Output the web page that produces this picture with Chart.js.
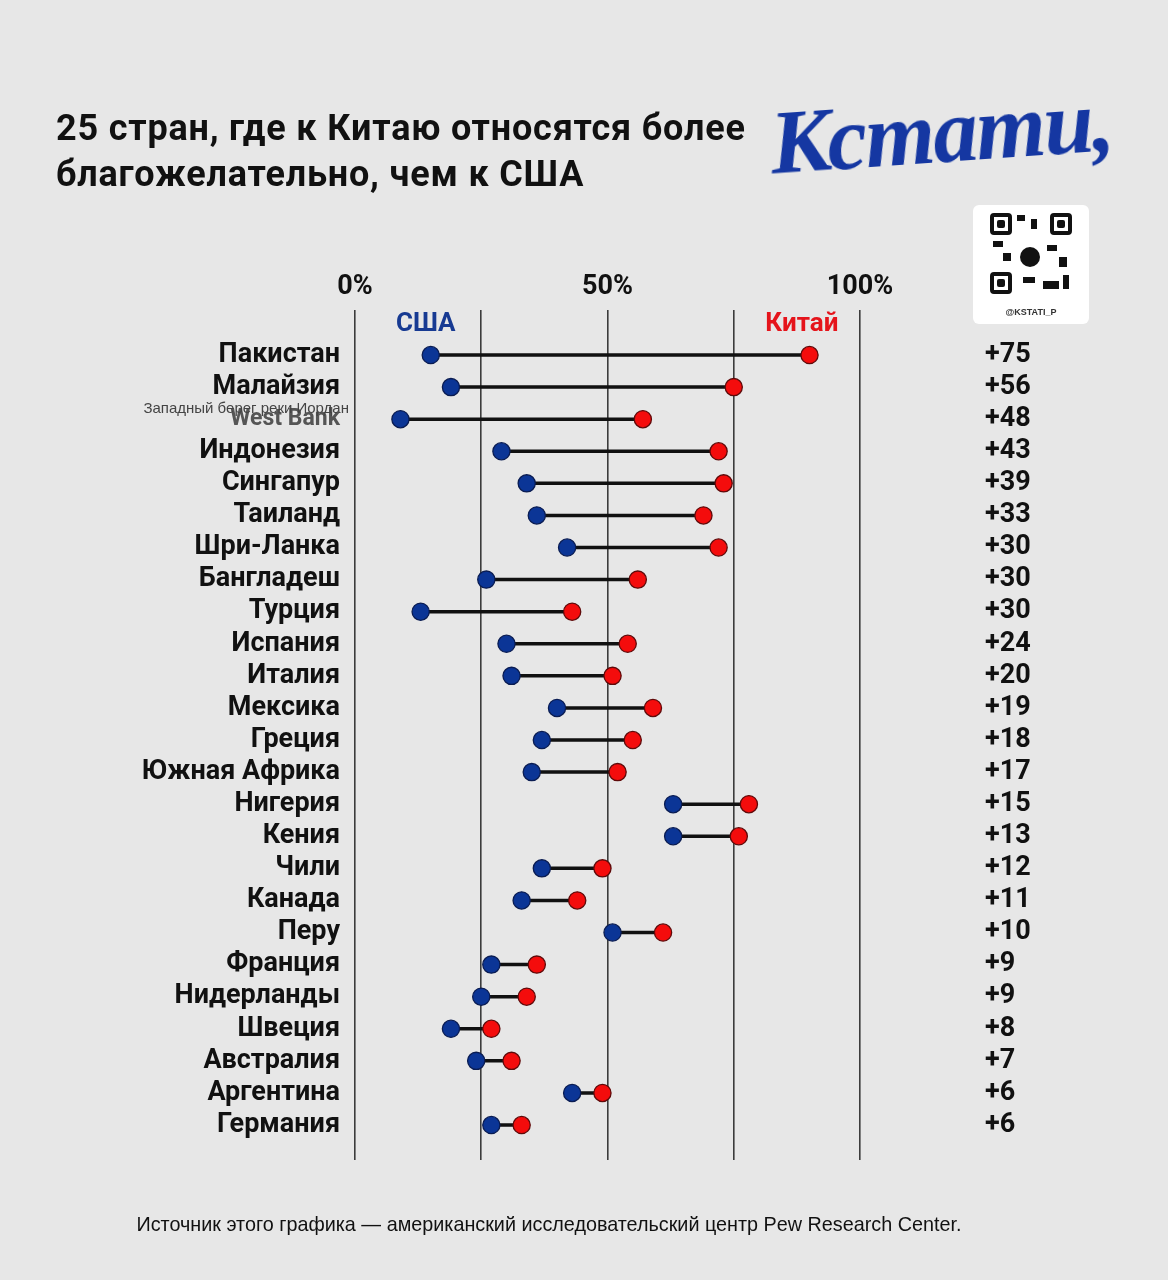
<!DOCTYPE html>
<html lang="ru">
<head>
<meta charset="utf-8">
<script src="https://cdn.jsdelivr.net/npm/chart.js@4.4.1/dist/chart.umd.min.js"></script>
<style>
  html, body { margin: 0; padding: 0; background: #e7e7e7; }
  #page { position: relative; width: 1168px; height: 1280px; overflow: hidden; background: #e7e7e7; }
  #chart { position: absolute; left: 0; top: 0; }
  .title { position: absolute; left: 56px; top: 105px; font-family: Roboto, sans-serif; font-weight: 700;
           font-size: 36px; letter-spacing: 0.8px; line-height: 46px; color: #111; }
  .logo { position: absolute; left: 770px; top: 80px; font-family: "Liberation Serif", serif; font-style: italic;
          font-weight: 700; font-size: 90px; color: #1537a2; letter-spacing: -2px; transform: rotate(-4deg); }
  .qr { position: absolute; left: 973px; top: 205px; width: 116px; height: 119px; background: #fff; border-radius: 6px; }
  .qr .f { position: absolute; width: 14px; height: 14px; border: 4px solid #111; border-radius: 4px; }
  .qr .f::after { content: ""; position: absolute; left: 3px; top: 3px; width: 8px; height: 8px; background: #111; border-radius: 2px; }
  .qr .c { position: absolute; left: 47px; top: 42px; width: 20px; height: 20px; border-radius: 50%; background: #111; }
  .qr .b { position: absolute; background: #111; }
  .qr .h { position: absolute; left: 0; width: 116px; top: 102px; text-align: center; font-family: "Liberation Sans", sans-serif;
           font-weight: 700; font-size: 9px; color: #333; }
  .src { position: absolute; left: 0; width: 1098px; top: 1213px; text-align: center; font-family: "Liberation Sans", sans-serif;
         font-size: 19.8px; color: #111; }
</style>
</head>
<body>
<div id="page">
  <canvas id="chart" width="1168" height="1280"></canvas>
  <div class="title">25 стран, где к Китаю относятся более<br>благожелательно, чем к США</div>
  <div class="logo">Кстати,</div>
  <div class="qr">
    <div class="f" style="left:17px;top:8px"></div>
    <div class="f" style="left:77px;top:8px"></div>
    <div class="f" style="left:17px;top:67px"></div>
    <div class="b" style="left:44px;top:10px;width:8px;height:6px"></div>
    <div class="b" style="left:58px;top:14px;width:6px;height:10px"></div>
    <div class="b" style="left:20px;top:36px;width:10px;height:6px"></div>
    <div class="b" style="left:30px;top:48px;width:8px;height:8px"></div>
    <div class="b" style="left:74px;top:40px;width:10px;height:6px"></div>
    <div class="b" style="left:86px;top:52px;width:8px;height:10px"></div>
    <div class="b" style="left:50px;top:72px;width:12px;height:6px"></div>
    <div class="b" style="left:70px;top:76px;width:16px;height:8px"></div>
    <div class="b" style="left:90px;top:70px;width:6px;height:14px"></div>
    <div class="c"></div>
    <div class="h">@KSTATI_P</div>
  </div>
  <div class="src">Источник этого графика — американский исследовательский центр Pew Research Center.</div>
</div>
<script>
var countries = ["Пакистан", "Малайзия", "West Bank", "Индонезия", "Сингапур", "Таиланд", "Шри-Ланка",
  "Бангладеш", "Турция", "Испания", "Италия", "Мексика", "Греция", "Южная Африка", "Нигерия", "Кения",
  "Чили", "Канада", "Перу", "Франция", "Нидерланды", "Швеция", "Австралия", "Аргентина", "Германия"];
var usaValues = [15, 19, 9, 29, 34, 36, 42, 26, 13, 30, 31, 40, 37, 35, 63, 63, 37, 33, 51, 27, 25, 19, 24, 43, 27];
var chinaValues = [90, 75, 57, 72, 73, 69, 72, 56, 43, 54, 51, 59, 55, 52, 78, 76, 49, 44, 61, 36, 34, 27, 31, 49, 33];
var xTickLabels = { 0: "0%", 50: "50%", 100: "100%" };
var westBankNote = "Западный берег реки Иордан";

var diffLabels = countries.map(function (c, i) { return "+" + (chinaValues[i] - usaValues[i]); });

var connectors = [];
countries.forEach(function (c, i) {
  connectors.push({ x: usaValues[i], y: i });
  connectors.push({ x: chinaValues[i], y: i });
  connectors.push({ x: chinaValues[i], y: null });
});

var labelFont = { family: "Roboto", weight: "700", size: 27 };
var smallFont = { family: "Roboto", weight: "700", size: 23 };

var extras = {
  id: "extras",
  afterDraw: function (chart) {
    var ctx = chart.ctx, x = chart.scales.x, y = chart.scales.y;
    ctx.save();
    ctx.font = "700 26px Roboto";
    ctx.textAlign = "center";
    ctx.textBaseline = "middle";
    ctx.fillStyle = "#173a92";
    ctx.fillText("США", x.getPixelForValue(14), y.getPixelForValue(-0.95));
    ctx.fillStyle = "#e5141b";
    ctx.fillText("Китай", x.getPixelForValue(88.5), y.getPixelForValue(-0.95));
    ctx.font = "15px 'Liberation Sans'";
    ctx.textAlign = "right";
    ctx.fillStyle = "#444";
    ctx.fillText(westBankNote, 349, y.getPixelForValue(2) - 10);
    ctx.restore();
  }
};

new Chart(document.getElementById("chart"), {
  type: "scatter",
  data: {
    datasets: [
      {
        data: usaValues.map(function (v, i) { return { x: v, y: i }; }),
        backgroundColor: "#0b3596", borderColor: "#0a1c52", borderWidth: 1.3,
        pointRadius: 8.6, order: 1
      },
      {
        data: chinaValues.map(function (v, i) { return { x: v, y: i }; }),
        backgroundColor: "#f40c0c", borderColor: "#5e0a0a", borderWidth: 1.3,
        pointRadius: 8.6, order: 1
      },
      {
        type: "line", data: connectors, showLine: true, spanGaps: false,
        borderColor: "#111", borderWidth: 3.5, pointRadius: 0, order: 2
      }
    ]
  },
  options: {
    responsive: false, animation: false,
    layout: { padding: { left: 0, right: 0, top: 0, bottom: 120 } },
    plugins: { legend: { display: false }, tooltip: { enabled: false } },
    scales: {
      x: {
        type: "linear", position: "top", min: 0, max: 100,
        afterFit: function (s) { s.height = 310; },
        ticks: {
          stepSize: 25, padding: 7, color: "#111", font: labelFont, maxRotation: 0,
          callback: function (v) { return xTickLabels[v] || ""; }
        },
        grid: { color: "#3c3c3c", lineWidth: 1.6, drawTicks: false },
        border: { display: false }
      },
      y: {
        type: "linear", reverse: true, min: -1.403, max: 25.09,
        afterFit: function (s) { s.width = 355; s.paddingTop = 0; s.paddingBottom = 0; },
        afterBuildTicks: function (s) { s.ticks = countries.map(function (c, i) { return { value: i }; }); },
        ticks: {
          padding: 7, autoSkip: false,
          font: function (c) { return c.index === 2 ? smallFont : labelFont; },
          color: function (c) { return c.index === 2 ? "#555" : "#111"; },
          callback: function (v) { return countries[v]; }
        },
        grid: { display: false },
        border: { display: false }
      },
      y2: {
        type: "linear", position: "right", reverse: true, min: -1.403, max: 25.09,
        afterFit: function (s) { s.width = 1168 - 860; s.paddingTop = 0; s.paddingBottom = 0; },
        afterBuildTicks: function (s) { s.ticks = diffLabels.map(function (c, i) { return { value: i }; }); },
        ticks: {
          padding: 117, font: labelFont, color: "#111", autoSkip: false,
          callback: function (v) { return diffLabels[v]; }
        },
        grid: { display: false },
        border: { display: false }
      }
    }
  },
  plugins: [extras]
});
</script>
</body>
</html>
